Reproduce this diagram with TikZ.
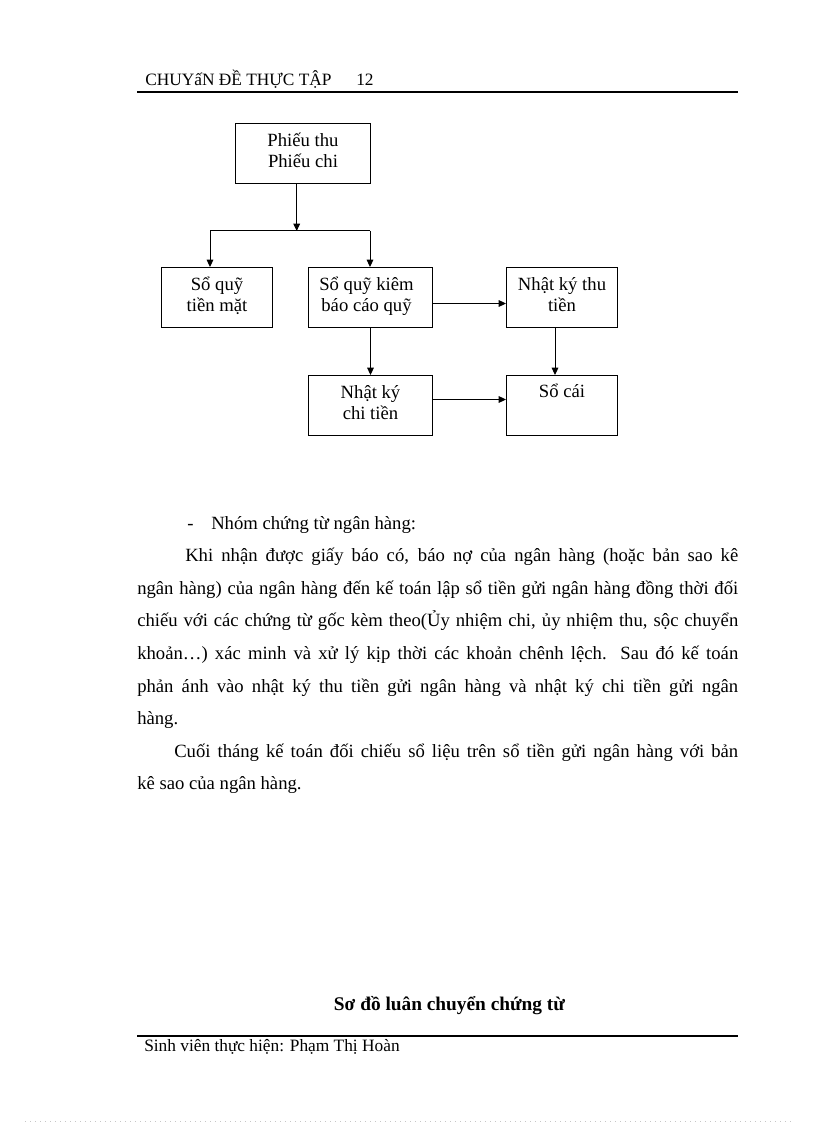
\documentclass[tikz,border=0pt]{standalone}
\usepackage{fontspec}
\setmainfont{Liberation Serif}
\usetikzlibrary{arrows.meta}
\newcommand{\twol}[2]{\begin{tabular}[t]{@{}c@{}}#1\\#2\end{tabular}}
\newcommand{\jl}[2]{\makebox[#1][s]{#2}}
\begin{document}
\begin{tikzpicture}[x=0.75pt,y=-0.75pt,
  box/.style={draw, line width=0.75pt, inner sep=0pt, anchor=north west, minimum height=45pt},
  boxtxt/.style={inner sep=0pt, anchor=base, font=\fontsize{14}{15.4}\selectfont},
  body/.style={inner sep=0pt, anchor=base west, font=\fontsize{14}{16}\selectfont},
  small/.style={inner sep=0pt, anchor=base west, font=\fontsize{13}{15}\selectfont},
  arr/.style={line width=0.75pt, -{Triangle[length=5.5pt,width=5pt]}},
  plain/.style={line width=0.75pt}
]
\useasboundingbox (0,0) rectangle (816,1123);
\fill[white] (0,0) rectangle (816,1123);

% header
\node[small] (hdr) at (145,85.3) {CHUYấN ĐỀ THỰC TẬP};
\node[small] (pg) at (356,85.3) {12};
\coordinate (hl) at (137,92.5);
\coordinate (hr) at (738,92.5);
\draw[line width=1.5pt] (hl) -- (hr);

% boxes
\node[box, minimum width=101.25pt] (top) at (235,123) {};
\node[box, minimum width=83.25pt] (tm) at (161,267) {};
\node[box, minimum width=93pt] (kiem) at (308,267) {};
\node[box, minimum width=83.25pt] (thu) at (506,267) {};
\node[box, minimum width=93pt] (chi) at (308,375) {};
\node[box, minimum width=83.25pt] (cai) at (506,375) {};

\node[boxtxt] (ttop) at ([yshift=-17.8pt]top.north) {\twol{Phiếu thu}{Phiếu chi}};
\node[boxtxt] (ttm) at ([yshift=-17.8pt]tm.north) {\twol{Sổ quỹ}{tiền mặt}};
\node[boxtxt] (tkiem) at ([yshift=-17.8pt,xshift=-3pt]kiem.north) {\twol{Sổ quỹ kiêm}{báo cáo quỹ}};
\node[boxtxt] (tthu) at ([yshift=-17.8pt]thu.north) {\twol{Nhật ký thu}{tiền}};
\node[boxtxt] (tchi) at ([yshift=-17.8pt]chi.north) {\twol{Nhật ký}{chi tiền}};
\node[boxtxt] (tcai) at ([yshift=-17pt]cai.north) {Sổ cái};

% connectors
\coordinate (j) at (296.7,231);
\coordinate (jl) at (210,231);
\coordinate (jr) at (370,231);
\coordinate (tx) at (555,0);
\draw[arr] (top.south -| j) -- (j);
\draw[plain] (jl) -- (jr);
\draw[arr] (jl) -- (jl |- tm.north);
\draw[arr] (jr) -- (jr |- kiem.north);
\draw[arr] ([yshift=-4.5pt]kiem.east) -- ([yshift=-4.5pt]kiem.east -| thu.west);
\draw[arr] (kiem.south) -- (chi.north);
\draw[arr] (thu.south -| tx) -- (cai.north -| tx);
\draw[arr] ([yshift=4.5pt]chi.east) -- ([yshift=4.5pt]chi.east -| cai.west);

% body text
\node[body] (dash) at (187,529) {-};
\node[body] (b0) at (211,529) {Nhóm chứng từ ngân hàng:};
\node[body] (b1) at (185,561.6) {\jl{414.75pt}{Khi nhận được giấy báo có, báo nợ của ngân hàng (hoặc bản sao kê}};
\node[body] (b2) at (137,594.2) {\jl{450.75pt}{ngân hàng) của ngân hàng đến kế toán lập sổ tiền gửi ngân hàng đồng thời đối}};
\node[body] (b3) at (137,626.8) {\jl{450.75pt}{chiếu với các chứng từ gốc kèm theo(Ủy nhiệm chi, ủy nhiệm thu, sộc chuyển}};
\node[body] (b4) at (137,659.4) {\jl{450.75pt}{khoản…) xác minh và xử lý kịp thời các khoản chênh lệch. Sau đó kế toán}};
\node[body] (b5) at (137,692) {\jl{450.75pt}{phản ánh vào nhật ký thu tiền gửi ngân hàng và nhật ký chi tiền gửi ngân}};
\node[body] (b6) at (137,724.6) {hàng.};
\node[body] (b7) at (174,757.2) {\jl{423pt}{Cuối tháng kế toán đối chiếu sổ liệu trên sổ tiền gửi ngân hàng với bản}};
\node[body] (b8) at (137,789.8) {kê sao của ngân hàng.};

% caption
\node[inner sep=0pt, anchor=base, font=\fontsize{14.5}{16}\selectfont\bfseries] (cap) at (449.5,1010.7) {Sơ đồ luân chuyển chứng từ};

% footer
\coordinate (fl) at (137,1035.5);
\coordinate (fr) at (738,1035.5);
\draw[line width=1.5pt] (fl) -- (fr);
\node[small] (ftr) at (144,1051.7) {Sinh viên thực hiện: Phạm Thị Hoàn};

% faint page edge
\coordinate (dl) at (25,1121);
\coordinate (dr) at (792,1121);
\draw[gray!45, line width=0.6pt, dash pattern=on 0.75pt off 3pt] (dl) -- (dr);
\end{tikzpicture}
\end{document}
